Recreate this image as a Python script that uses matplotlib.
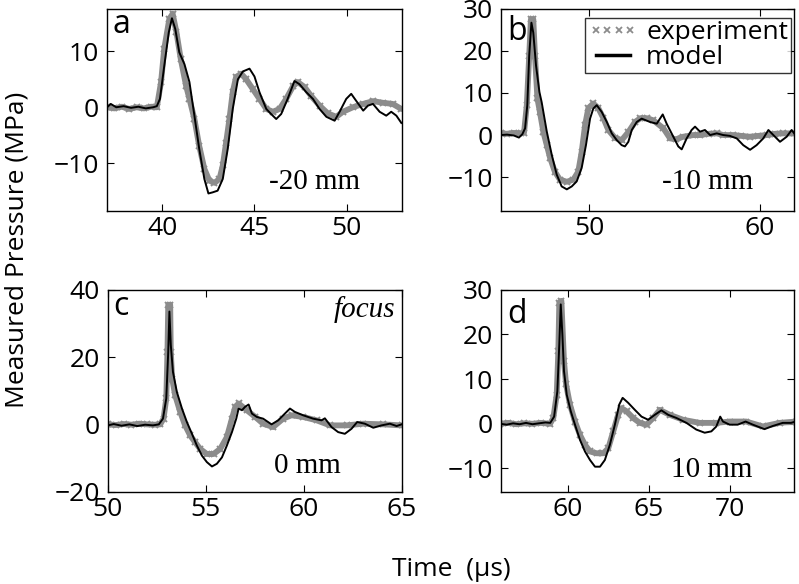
import matplotlib
matplotlib.use("Agg")
import matplotlib.pyplot as plt
from matplotlib.lines import Line2D

plt.rcParams.update({
    "font.family": ["Open Sans", "DejaVu Sans"],
    "font.size": 19,
    "axes.linewidth": 1.0,
    "xtick.direction": "in", "ytick.direction": "in",
    "xtick.top": True, "ytick.right": True,
    "xtick.major.size": 5, "ytick.major.size": 5,
    "xtick.major.pad": 4, "ytick.major.pad": 6,
})

EXP_COLOR = "#8c8c8c"

# panel a (-20 mm)
a_exp_t = [37.0, 37.4, 37.8, 38.2, 38.6, 39.0, 39.4, 39.7, 39.93, 40.1, 40.38, 40.56, 40.76, 41.0,
           41.29, 41.47, 41.74, 42.0, 42.28, 42.55, 42.83, 43.1, 43.28, 43.46, 43.64, 43.82, 44.0,
           44.28, 44.55, 44.9, 45.27, 45.64, 46.0, 46.36, 46.72, 47.1, 47.35, 47.72, 48.08, 48.53,
           48.98, 49.44, 49.8, 50.34, 50.9, 51.43, 51.97, 52.5, 52.97]
a_exp_p = [0.0, -0.2, 0.1, -0.3, 0.0, -0.2, 0.1, 0.0, 4.5, 10.4, 15.8, 16.7, 13.5, 8.6,
           3.8, 1.5, -2.1, -6.9, -11.0, -13.1, -13.5, -12.8, -10.4, -6.3, -2.1, 2.7, 5.4,
           6.0, 5.0, 3.3, 1.5, -0.3, -0.8, -0.3, 1.5, 3.8, 4.5, 3.6, 2.0, 0.3,
           -1.1, -1.7, -0.8, 0.0, 0.6, 1.1, 0.8, 0.6, -0.3]
a_mod_t = [37.0, 37.2, 37.5, 37.9, 38.3, 38.7, 39.1, 39.5, 39.7, 39.87, 40.1, 40.35, 40.52, 40.7,
           40.92, 41.2, 41.47, 41.74, 42.0, 42.28, 42.5, 42.73, 43.0, 43.28, 43.55, 43.82, 44.1,
           44.37, 44.73, 45.0, 45.27, 45.64, 45.9, 46.18, 46.45, 46.8, 47.17, 47.45, 47.81, 48.17,
           48.53, 48.9, 49.35, 49.62, 49.98, 50.25, 50.53, 50.9, 51.16, 51.43, 51.79, 52.15, 52.42,
           52.7, 52.97]
a_mod_p = [0.0, 0.6, 0.0, 0.2, -0.1, 0.1, -0.2, 0.0, 0.2, 1.5, 7.3, 13.4, 15.9, 14.0,
           9.8, 7.7, 4.5, -1.5, -7.4, -12.8, -15.4, -15.2, -14.9, -12.8, -7.4, -0.3, 5.0,
           6.4, 6.9, 5.5, 2.7, -0.3, -1.2, -2.1, -1.2, 1.5, 4.7, 4.1, 2.7, 1.5,
           -0.3, -1.7, -2.4, -0.8, 1.5, 2.4, 1.1, -0.6, 0.3, 0.6, -0.8, -1.5, -0.8,
           -1.5, -2.8]

# panel b (-10 mm)
b_exp_t = [44.85, 45.2, 45.6, 46.0, 46.2, 46.36, 46.5, 46.6, 46.74, 46.84, 46.98, 47.13, 47.33,
           47.53, 47.72, 48.0, 48.3, 48.7, 49.08, 49.37, 49.57, 49.77, 49.96, 50.25, 50.54, 50.84,
           51.13, 51.52, 51.91, 52.3, 52.69, 53.0, 53.38, 53.76, 54.35, 54.74, 55.1, 55.5, 56.1,
           56.5, 57.0, 57.47, 57.85, 58.44, 58.9, 59.4, 59.9, 60.4, 60.9, 61.36, 61.98]
b_exp_p = [0.4, 0.3, 0.5, 0.4, 0.6, 7.1, 18.8, 27.5, 27.5, 18.8, 8.7, 5.4, 0.7,
           -2.4, -5.4, -8.7, -10.6, -11.1, -10.6, -8.7, -4.0, 2.4, 6.4, 7.5, 6.4, 4.0,
           1.2, -0.7, -1.2, 0.7, 3.1, 4.0, 4.0, 3.5, 1.6, -0.8, -1.0, -0.4, 0.0,
           0.0, 0.3, 0.4, 0.0, 0.0, -0.2, -0.4, -0.2, 0.0, 0.3, 0.4, 0.4]
b_mod_t = [44.85, 45.2, 45.6, 45.9, 46.1, 46.26, 46.39, 46.5, 46.63, 46.74, 46.9, 47.1, 47.23,
           47.53, 47.82, 48.11, 48.4, 48.7, 48.99, 49.28, 49.57, 49.82, 50.06, 50.25, 50.45, 50.74,
           51.04, 51.33, 51.62, 51.91, 52.1, 52.3, 52.5, 52.79, 53.08, 53.57, 53.96, 54.31, 54.54,
           54.93, 55.22, 55.42, 55.71, 56.0, 56.2, 56.49, 56.78, 57.08, 57.47, 57.85, 58.24, 58.64,
           59.02, 59.42, 59.8, 60.19, 60.49, 60.78, 61.17, 61.56, 61.85, 62.0]
b_mod_p = [0.0, 0.1, -0.1, -0.6, 0.2, 1.6, 7.1, 18.8, 26.7, 24.3, 16.5, 10.2, 7.8,
           0.8, -4.7, -9.4, -12.2, -12.9, -12.2, -11.0, -7.8, -2.4, 3.9, 6.3, 7.1, 5.5,
           3.1, 0.4, -1.2, -2.4, -2.7, -1.6, 1.2, 3.1, 3.9, 3.1, 2.7, 4.9, 2.7,
           -0.4, -2.7, -3.4, -0.8, 1.2, 2.0, 0.8, 1.2, 0.0, 0.4, 0.0, -0.2, -0.8,
           -2.4, -3.5, -2.4, -0.8, 1.2, 0.0, -1.6, -0.4, 1.2, 0.4]

# panel c (0 mm, focus)
c_exp_t = [50.0, 50.4, 50.8, 51.2, 51.6, 52.0, 52.4, 52.67, 52.84, 52.98, 53.04, 53.08, 53.18,
           53.21, 53.28, 53.43, 53.69, 53.94, 54.2, 54.45, 54.71, 55.05, 55.39, 55.73, 56.07,
           56.33, 56.5, 56.67, 57.09, 57.52, 57.92, 58.43, 58.94, 59.37, 59.96, 60.65, 61.33,
           62.18, 63.03, 64.05, 64.98]
c_exp_p = [0.0, -0.2, 0.1, -0.1, 0.2, 0.0, -0.1, 0.0, 1.7, 7.7, 21.6, 35.5, 35.5,
           21.6, 13.6, 8.7, 3.7, -0.3, -3.3, -5.3, -7.3, -8.8, -8.8, -7.3, -3.8,
           1.7, 5.2, 6.2, 4.2, 2.2, 0.2, -0.8, 1.7, 2.7, 2.2, 1.2, -0.3,
           -0.3, 0.2, 0.0, -0.3]
c_mod_t = [50.0, 50.3, 50.7, 51.1, 51.5, 51.9, 52.3, 52.6, 52.81, 52.98, 53.08, 53.14, 53.21,
           53.32, 53.52, 53.78, 54.03, 54.29, 54.54, 54.8, 55.05, 55.31, 55.56, 55.82, 56.07,
           56.33, 56.55, 56.67, 56.84, 57.0, 57.18, 57.35, 57.6, 57.92, 58.35, 58.69, 59.03,
           59.29, 59.54, 59.96, 60.47, 60.9, 61.07, 61.41, 61.75, 62.09, 62.43, 62.72, 63.11,
           63.54, 63.96, 64.39, 64.73, 64.98]
c_mod_p = [-0.3, 0.1, -0.4, 0.0, -0.5, -0.1, -0.3, 0.0, 1.7, 7.7, 21.6, 33.5, 23.6,
           15.6, 9.6, 4.7, 0.7, -2.8, -6.3, -9.3, -11.2, -12.5, -11.7, -9.8, -6.3,
           -2.3, 1.7, 4.7, 4.2, 5.2, 5.9, 3.2, 2.2, 1.7, 0.0, 1.2, 3.2,
           4.7, 3.7, 2.7, 1.7, 1.2, 1.8, -0.8, -2.3, -2.8, -1.3, 0.7, 0.2,
           -1.0, -0.3, 0.2, -0.5, 0.0]

# panel d (10 mm)
d_exp_t = [55.8, 56.3, 56.8, 57.3, 57.8, 58.3, 58.89, 59.09, 59.3, 59.4, 59.46, 59.59, 59.75,
           59.88, 60.12, 60.43, 60.74, 61.05, 61.36, 61.77, 62.18, 62.49, 62.8, 63.1, 63.31,
           63.62, 64.03, 64.44, 64.86, 65.27, 65.68, 66.3, 67.12, 68.15, 69.18, 70.0, 71.03,
           72.06, 73.09, 74.1]
d_exp_p = [0.0, 0.2, -0.1, 0.1, 0.0, 0.2, 0.0, 1.3, 6.5, 16.2, 27.1, 27.5, 14.0,
           8.8, 4.3, 0.5, -2.5, -4.7, -6.2, -6.6, -6.6, -5.5, -1.7, 2.0, 3.5,
           2.8, 1.3, 0.2, -0.2, 1.3, 3.1, 2.0, 0.9, 0.2, 0.2, 0.5, 0.5,
           -0.6, 0.2, 0.5]
d_mod_t = [55.8, 56.2, 56.6, 57.0, 57.4, 57.8, 58.2, 58.6, 58.9, 59.14, 59.34, 59.46, 59.55,
           59.65, 59.75, 59.92, 60.17, 60.43, 60.74, 61.05, 61.36, 61.67, 61.98, 62.28, 62.59,
           62.9, 63.17, 63.38, 63.72, 64.14, 64.55, 64.96, 65.37, 65.78, 66.2, 66.71, 67.33,
           67.94, 68.46, 68.87, 69.18, 69.42, 69.59, 70.0, 70.5, 70.99, 71.44, 72.16, 72.67,
           73.29, 73.8, 74.1]
d_mod_p = [0.0, -0.2, 0.1, -0.1, 0.2, -0.1, 0.1, 0.3, 0.2, 1.6, 7.3, 17.8, 26.7,
           20.0, 11.8, 6.5, 2.8, -0.2, -3.6, -6.2, -8.1, -9.6, -9.6, -8.1, -4.7,
           -0.2, 4.3, 5.8, 4.7, 3.1, 1.6, 0.9, 2.0, 3.0, 2.0, 1.3, 0.2,
           -1.3, -2.0, -1.7, -0.6, 1.6, 0.5, -0.2, -0.2, 0.5, -0.2, -1.2, -0.5,
           0.2, 0.2, 0.5]

panels = [
    dict(letter="a", exp=(a_exp_t, a_exp_p), mod=(a_mod_t, a_mod_p), xlim=(37, 53), ylim=(-18.5, 17.6),
         xt=[40, 45, 50], yt=[-10, 0, 10], label="-20 mm", lpos=(0.705, 0.145), ly=0.88),
    dict(letter="b", exp=(b_exp_t, b_exp_p), mod=(b_mod_t, b_mod_p), xlim=(44.85, 62), ylim=(-18, 30),
         xt=[50, 60], yt=[-10, 0, 10, 20, 30], label="-10 mm", lpos=(0.705, 0.145), ly=0.845),
    dict(letter="c", exp=(c_exp_t, c_exp_p), mod=(c_mod_t, c_mod_p), xlim=(50, 65), ylim=(-20, 40),
         xt=[50, 55, 60, 65], yt=[-20, 0, 20, 40], label="0 mm", lpos=(0.68, 0.125), ly=0.876),
    dict(letter="d", exp=(d_exp_t, d_exp_p), mod=(d_mod_t, d_mod_p), xlim=(55.85, 74), ylim=(-15.2, 30),
         xt=[60, 65, 70], yt=[-10, 0, 10, 20, 30], label="10 mm", lpos=(0.719, 0.11), ly=0.837),
]

fig = plt.figure(figsize=(7.99, 5.84), dpi=100)
boxes = [(0.134, 0.639, 0.369, 0.346), (0.627, 0.639, 0.367, 0.346),
         (0.135, 0.158, 0.368, 0.346), (0.627, 0.158, 0.367, 0.346)]

for box, p in zip(boxes, panels):
    ax = fig.add_axes(box)
    t, v = p["exp"]
    ax.plot(t, v, color=EXP_COLOR, lw=4.2, solid_capstyle="round", solid_joinstyle="round", zorder=2)
    ax.plot(t, v, ls="none", marker="x", ms=5, mew=1.4, color=EXP_COLOR, zorder=2)
    t, v = p["mod"]
    ax.plot(t, v, color="black", lw=1.4, zorder=3)
    ax.set_xlim(*p["xlim"]); ax.set_ylim(*p["ylim"])
    ax.set_xticks(p["xt"]); ax.set_yticks(p["yt"])
    ax.text(0.02, p["ly"], p["letter"], transform=ax.transAxes, fontsize=23, va="baseline", ha="left")
    ax.text(p["lpos"][0], p["lpos"][1], p["label"], transform=ax.transAxes, fontsize=21,
            family="Liberation Serif", ha="center", va="center")
    if p["letter"] == "c":
        ax.text(0.976, 0.90, "focus", transform=ax.transAxes, fontsize=21, family="Liberation Serif",
                style="italic", ha="right", va="center")
    if p["letter"] == "b":
        handles = [Line2D([], [], ls="none", marker="x", ms=4, mew=1.3, color=EXP_COLOR),
                   Line2D([], [], color="black", lw=2.5)]
        leg = ax.legend(handles, ["experiment", "model"], loc="upper right", bbox_to_anchor=(0.988, 0.955),
                        fontsize=19, numpoints=4, frameon=True, fancybox=False, borderpad=0.1,
                        handlelength=1.9, handletextpad=0.3, labelspacing=0.0, borderaxespad=0)
        leg.get_frame().set_edgecolor("black")
        leg.get_frame().set_linewidth(1.0)

fig.text(0.021, 0.572, "Measured Pressure (MPa)", rotation=90, ha="center", va="center", fontsize=19)
fig.text(0.565, 0.025, "Time  (\u03bcs)", ha="center", va="center", fontsize=19)

fig.savefig("out.png", dpi=100)
